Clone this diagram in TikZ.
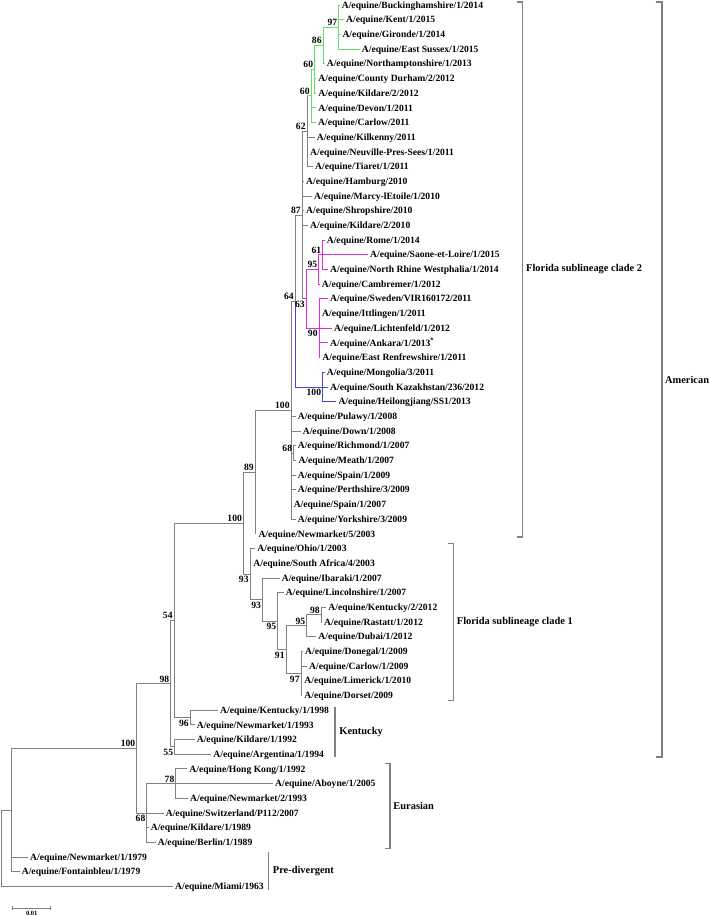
\documentclass[tikz,border=0pt]{standalone}
\usepackage{fontspec}
\setmainfont{Liberation Serif}

\definecolor{treegray}{RGB}{128,128,128}
\definecolor{cladegreen}{RGB}{100,224,100}
\definecolor{cladepink}{RGB}{228,40,228}
\definecolor{cladeblue}{RGB}{70,70,220}

\begin{document}
\begin{tikzpicture}[
    x=1pt, y=-14.69pt,
    branch/.style={draw=treegray, line width=0.8pt},
    grn/.style={draw=cladegreen, line width=0.8pt},
    pnk/.style={draw=cladepink, line width=0.8pt},
    blu/.style={draw=cladeblue, line width=0.8pt},
    bracket/.style={draw=treegray, line width=1.2pt},
    leaf/.style={anchor=west, inner xsep=2pt, inner ysep=0pt, text height=8.4pt, text depth=2pt},
    bsa/.style={anchor=south east, inner sep=1.2pt},
    bsb/.style={anchor=north east, inner xsep=1.2pt, inner ysep=2.2pt},
    clade/.style={anchor=west, inner sep=0pt, font=\bfseries\fontsize{10.4}{12}\selectfont},
    every node/.style={font=\bfseries\fontsize{9.6}{11}\selectfont}
]
\useasboundingbox (0,0.6596) rectangle (709,63.016);

% internal nodes
\coordinate (root) at (1,58.4);
\coordinate (nR2) at (11,55.8);
\coordinate (n100c) at (136.7,51.6);
\coordinate (n98) at (170.7,47.19);
\coordinate (n54) at (174,42.88);
\coordinate (n55) at (174.5,51.5);
\coordinate (n96) at (190,49.5);
\coordinate (n68b) at (146.7,56);
\coordinate (n78) at (175.7,54);
\coordinate (n100b) at (243.3,36.26);
\coordinate (n89) at (255,32.787);
\coordinate (n93a) at (250,39.734);
\coordinate (n93b) at (262.3,41.469);
\coordinate (n95b) at (277.7,42.938);
\coordinate (n91) at (286,44.875);
\coordinate (n95c) at (306.7,43.25);
\coordinate (n98b) at (321,42.5);
\coordinate (n97b) at (301,46.5);
\coordinate (n100a) at (291,28.574);
\coordinate (n68) at (293.5,31.5);
\coordinate (n64) at (295,21.148);
\coordinate (nbl) at (322.5,27);
\coordinate (n87) at (302,15.297);
\coordinate (n63) at (306,21);
\coordinate (n95a) at (318.6,19);
\coordinate (n61) at (322.7,18);
\coordinate (n90) at (319,23);
\coordinate (n62) at (307,9.594);
\coordinate (nB) at (311,7.1875);
\coordinate (nA) at (314.5,5.375);
\coordinate (n86) at (323,3.75);
\coordinate (n97) at (338.5,2.5);

% taxa
\node[leaf] (t1) at (339.7,1) {A/equine/Buckinghamshire/1/2014};
\node[leaf] (t2) at (344,2) {A/equine/Kent/1/2015};
\node[leaf] (t3) at (340.3,3) {A/equine/Gironde/1/2014};
\node[leaf] (t4) at (359.7,4) {A/equine/East Sussex/1/2015};
\node[leaf] (t5) at (324.7,5) {A/equine/Northamptonshire/1/2013};
\node[leaf] (t6) at (316.3,6) {A/equine/County Durham/2/2012};
\node[leaf] (t7) at (316.3,7) {A/equine/Kildare/2/2012};
\node[leaf] (t8) at (316.3,8) {A/equine/Devon/1/2011};
\node[leaf] (t9) at (316,9) {A/equine/Carlow/2011};
\node[leaf] (t10) at (314.7,10) {A/equine/Kilkenny/2011};
\node[leaf] (t11) at (308,11) {A/equine/Neuville-Pres-Sees/1/2011};
\node[leaf] (t12) at (313,12) {A/equine/Tiaret/1/2011};
\node[leaf] (t13) at (304,13) {A/equine/Hamburg/2010};
\node[leaf] (t14) at (312,14) {A/equine/Marcy-lEtoile/1/2010};
\node[leaf] (t15) at (304,15) {A/equine/Shropshire/2010};
\node[leaf] (t16) at (308,16) {A/equine/Kildare/2/2010};
\node[leaf] (t17) at (324.7,17) {A/equine/Rome/1/2014};
\node[leaf] (t18) at (368,18) {A/equine/Saone-et-Loire/1/2015};
\node[leaf] (t19) at (328,19) {A/equine/North Rhine Westphalia/1/2014};
\node[leaf] (t20) at (319.7,20) {A/equine/Cambremer/1/2012};
\node[leaf] (t21) at (328,21) {A/equine/Sweden/VIR160172/2011};
\node[leaf] (t22) at (320,22) {A/equine/Ittlingen/1/2011};
\node[leaf] (t23) at (332,23) {A/equine/Lichtenfeld/1/2012};
\node[leaf] (t24) at (328,24) {A/equine/Ankara/1/2013\textsuperscript{*}};
\node[leaf] (t25) at (320.3,25) {A/equine/East Renfrewshire/1/2011};
\node[leaf] (t26) at (324.7,26) {A/equine/Mongolia/3/2011};
\node[leaf] (t27) at (328,27) {A/equine/South Kazakhstan/236/2012};
\node[leaf] (t28) at (336.3,28) {A/equine/Heilongjiang/SS1/2013};
\node[leaf] (t29) at (295.7,29) {A/equine/Pulawy/1/2008};
\node[leaf] (t30) at (300.7,30) {A/equine/Down/1/2008};
\node[leaf] (t31) at (295.7,31) {A/equine/Richmond/1/2007};
\node[leaf] (t32) at (296.3,32) {A/equine/Meath/1/2007};
\node[leaf] (t33) at (295.7,33) {A/equine/Spain/1/2009};
\node[leaf] (t34) at (295.7,34) {A/equine/Perthshire/3/2009};
\node[leaf] (t35) at (291.6,35) {A/equine/Spain/1/2007};
\node[leaf] (t36) at (295.7,36) {A/equine/Yorkshire/3/2009};
\node[leaf] (t37) at (256.3,37) {A/equine/Newmarket/5/2003};
\node[leaf] (t38) at (255.3,38) {A/equine/Ohio/1/2003};
\node[leaf] (t39) at (251.3,39) {A/equine/South Africa/4/2003};
\node[leaf] (t40) at (279.7,40) {A/equine/Ibaraki/1/2007};
\node[leaf] (t41) at (283.7,41) {A/equine/Lincolnshire/1/2007};
\node[leaf] (t42) at (326.3,42) {A/equine/Kentucky/2/2012};
\node[leaf] (t43) at (322,43) {A/equine/Rastatt/1/2012};
\node[leaf] (t44) at (316.3,44) {A/equine/Dubai/1/2012};
\node[leaf] (t45) at (303,45) {A/equine/Donegal/1/2009};
\node[leaf] (t46) at (307,46) {A/equine/Carlow/1/2009};
\node[leaf] (t47) at (302.3,47) {A/equine/Limerick/1/2010};
\node[leaf] (t48) at (302.3,48) {A/equine/Dorset/2009};
\node[leaf] (t49) at (218,49) {A/equine/Kentucky/1/1998};
\node[leaf] (t50) at (194.7,50) {A/equine/Newmarket/1/1993};
\node[leaf] (t51) at (194.7,51) {A/equine/Kildare/1/1992};
\node[leaf] (t52) at (211.3,52) {A/equine/Argentina/1/1994};
\node[leaf] (t53) at (187.3,53) {A/equine/Hong Kong/1/1992};
\node[leaf] (t54) at (273,54) {A/equine/Aboyne/1/2005};
\node[leaf] (t55) at (188,55) {A/equine/Newmarket/2/1993};
\node[leaf] (t56) at (163.7,56) {A/equine/Switzerland/P112/2007};
\node[leaf] (t57) at (148.7,57) {A/equine/Kildare/1/1989};
\node[leaf] (t58) at (155.7,58) {A/equine/Berlin/1/1989};
\node[leaf] (t59) at (28,59) {A/equine/Newmarket/1/1979};
\node[leaf] (t60) at (19.7,60) {A/equine/Fontainbleu/1/1979};
\node[leaf] (t61) at (173,61) {A/equine/Miami/1963};

% root and basal lineages
\draw[branch] (root) |- (nR2) (root) |- (t61);
\draw[branch] (nR2) |- (n100c) (nR2) |- (t59) (nR2) |- (t60);
\draw[branch] (n100c) |- (n98) (n100c) |- (n68b);
% Eurasian
\draw[branch] (n68b) |- (n78) (n68b) |- (t54) (n68b) |- (t56) (n68b) |- (t57) (n68b) |- (t58);
\draw[branch] (n78) |- (t53) (n78) |- (t55);
% Kentucky
\draw[branch] (n98) |- (n54) (n98) |- (n55);
\draw[branch] (n54) |- (n100b) (n54) |- (n96);
\draw[branch] (n96) |- (t49) (n96) |- (t50);
\draw[branch] (n55) |- (t51) (n55) |- (t52);
% Florida clade 1
\draw[branch] (n100b) |- (n89) (n100b) |- (n93a);
\draw[branch] (n93a) |- (t38) (n93a) |- (t39) (n93a) |- (n93b);
\draw[branch] (n93b) |- (t40) (n93b) |- (n95b);
\draw[branch] (n95b) |- (t41) (n95b) |- (n91);
\draw[branch] (n91) |- (n95c) (n91) |- (n97b);
\draw[branch] (n95c) |- (n98b) (n95c) |- (t44);
\draw[branch] (n98b) |- (t42) (n98b) |- (t43);
\draw[branch] (n97b) |- (t45) (n97b) |- (t46) (n97b) |- (t47) (n97b) |- (t48);
% Florida clade 2
\draw[branch] (n89) |- (n100a) (n89) |- (t37);
\draw[branch] (n100a) |- (n64) (n100a) |- (t29) (n100a) |- (t30) (n100a) |- (n68)
    (n100a) |- (t33) (n100a) |- (t34) (n100a) |- (t35) (n100a) |- (t36);
\draw[branch] (n68) |- (t31) (n68) |- (t32);
\draw[branch] (n64) |- (n87);
\draw[blu] (n64) |- (nbl);
\draw[blu] (nbl) |- (t26) (nbl) |- (t27) (nbl) |- (t28);
\draw[branch] (n87) |- (n62) (n87) |- (t13) (n87) |- (t14) (n87) |- (t15) (n87) |- (t16) (n87) |- (n63);
\draw[pnk] (n87 |- n63) -- (n63);
\draw[pnk] (n63) |- (n95a) (n63) |- (n90);
\draw[pnk] (n95a) |- (n61) (n95a) |- (t20);
\draw[pnk] (n61) |- (t17) (n61) |- (t18) (n61) |- (t19);
\draw[pnk] (n90) |- (t21) (n90) |- (t22) (n90) |- (t23) (n90) |- (t24) (n90) |- (t25);
\draw[branch] (n62) |- (nB) (n62) |- (t10) (n62) |- (t11) (n62) |- (t12);
\draw[grn] (n62 |- nB) -- (nB);
\draw[grn] (nB) |- (nA) (nB) |- (t8) (nB) |- (t9);
\draw[grn] (nA) |- (n86) (nA) |- (t6) (nA) |- (t7);
\draw[grn] (n86) |- (n97) (n86) |- (t5);
\draw[grn] (n97) |- (t1) (n97) |- (t2) (n97) |- (t3) (n97) |- (t4);

% bootstrap values
\node[bsa] (b97) at (n97) {97};
\node[bsa] (b86) at (n86) {86};
\node[bsa] (bA) at (nA) {60};
\node[bsa] (bB) at (nB) {60};
\node[bsa] (b62) at (n62) {62};
\node[bsa] (b87) at (n87) {87};
\node[bsa] (b61) at (n61) {61};
\node[bsa] (b95a) at (n95a) {95};
\node[bsb] (b63) at (n63) {63};
\node[bsb] (b90) at (n90) {90};
\node[bsa] (b64) at (n64) {64};
\node[bsb] (bbl) at (nbl) {100};
\node[bsa] (b100a) at (n100a) {100};
\node[bsa] (b68) at (n68) {68};
\node[bsa] (b89) at (n89) {89};
\node[bsa] (b100b) at (n100b) {100};
\node[bsb] (b93a) at (n93a) {93};
\node[bsb] (b93b) at (n93b) {93};
\node[bsb] (b95b) at (n95b) {95};
\node[bsb] (b91) at (n91) {91};
\node[bsa] (b95c) at (n95c) {95};
\node[bsa] (b98b) at (n98b) {98};
\node[bsb] (b97b) at (n97b) {97};
\node[bsa] (b54) at (n54) {54};
\node[bsa] (b98) at (n98) {98};
\node[bsb] (b96) at (n96) {96};
\node[bsb] (b55) at (n55) {55};
\node[bsa] (b100c) at (n100c) {100};
\node[bsa] (b78) at (n78) {78};
\node[bsb] (b68b) at (n68b) {68};

% clade brackets
\coordinate (amT) at (662,0.796);
\coordinate (amB) at (662,52.19);
\draw[bracket] ([xshift=-6pt]amT) -- (amT) -- (amB) -- ([xshift=-6pt]amB);
\node[clade] (american) at (665,26.49) {American};

\coordinate (fl2T) at (522.5,0.796);
\coordinate (fl2B) at (522.5,37.21);
\draw[bracket] ([xshift=-5pt]fl2T) -- (fl2T) -- (fl2B) -- ([xshift=-5pt]fl2B);
\node[clade] (florida2) at (526,19.0) {Florida sublineage clade 2};

\coordinate (fl1T) at (453.3,37.64);
\coordinate (fl1B) at (453.3,48.36);
\draw[bracket] ([xshift=-5pt]fl1T) -- (fl1T) -- (fl1B) -- ([xshift=-5pt]fl1B);
\node[clade] (florida1) at (456.7,43.0) {Florida sublineage clade 1};

\coordinate (kyT) at (335,48.77);
\coordinate (kyB) at (335,52.17);
\draw[bracket] (kyT) -- (kyB);
\node[clade] (kentucky) at (339.3,50.47) {Kentucky};

\coordinate (euT) at (390,52.62);
\coordinate (euB) at (390,58.4);
\draw[bracket] ([xshift=-5pt]euT) -- (euT) -- (euB) -- ([xshift=-5pt]euB);
\node[clade] (eurasian) at (393.3,55.51) {Eurasian};

\coordinate (pdT) at (268.3,58.64);
\coordinate (pdB) at (268.3,61.25);
\draw[bracket] (pdT) -- (pdB);
\node[clade] (predivergent) at (272.7,59.94) {Pre-divergent};

% scale bar
\coordinate (sbL) at (12.7,62.49);
\coordinate (sbR) at (50.7,62.49);
\draw[branch] (sbL) -- (sbR);
\draw[branch] ([yshift=2pt]sbL) -- ([yshift=-2pt]sbL);
\draw[branch] ([yshift=2pt]sbR) -- ([yshift=-2pt]sbR);
\node[font=\bfseries\fontsize{6.5}{7}\selectfont, inner sep=0pt] (sblabel) at (31.7,62.81) {0.01};

\end{tikzpicture}
\end{document}
